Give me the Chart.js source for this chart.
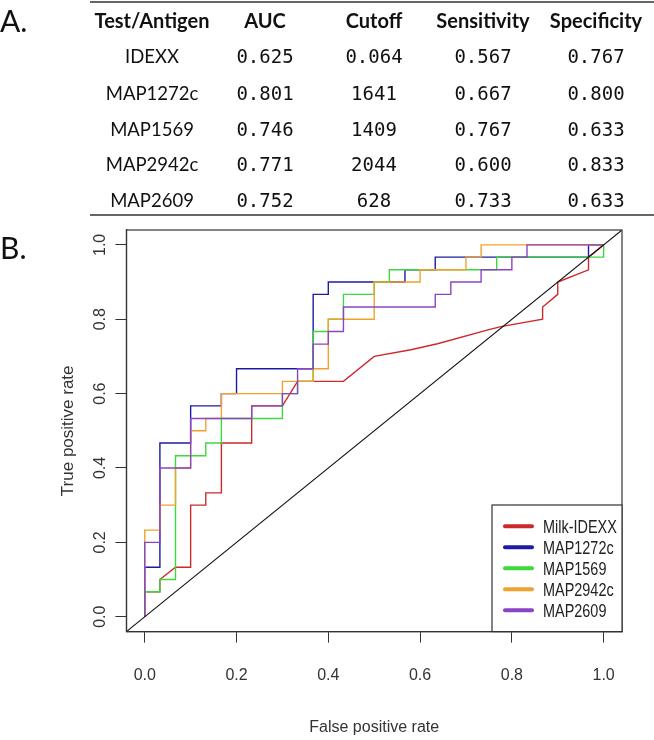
<!DOCTYPE html>
<html>
<head>
<meta charset="utf-8">
<title>ROC curves</title>
<script src="https://cdn.jsdelivr.net/npm/chart.js"></script>
<style>
  body { margin: 0; background: #fff; }
  #page { position: relative; width: 654px; height: 740px; overflow: hidden; }
  #roc { position: absolute; left: 0; top: 0; }
  .panel { position: absolute; left: 0; font: 30px Lato, sans-serif; color: #111; line-height: 1; }
  .rule { position: absolute; left: 90px; width: 564px; background: #666; }
  .cell { position: absolute; transform: translate(-50%, -50%); white-space: nowrap; color: #111; line-height: 1; }
  .hd { font: bold 20px Lato, sans-serif; }
  .nm { font: 18.5px Lato, sans-serif; }
  .num { font: 19px "DejaVu Sans Mono", monospace; }
</style>
</head>
<body>
<div id="page">
  <canvas id="roc" width="654" height="740"></canvas>
  <div class="panel" style="top:5px">A.</div>
  <div class="panel" style="top:232px">B.</div>
  <div class="rule" style="top:1px;height:2px"></div>
  <div class="rule" style="top:214px;height:2px"></div>
  <div id="table"></div>
</div>

<script>
// table A
const headers = ['Test/Antigen', 'AUC', 'Cutoff', 'Sensitivity', 'Specificity'];
const tests = ['IDEXX', 'MAP1272c', 'MAP1569', 'MAP2942c', 'MAP2609'];
const auc = ['0.625', '0.801', '0.746', '0.771', '0.752'];
const cutoff = ['0.064', '1641', '1409', '2044', '628'];
const sensitivity = ['0.567', '0.667', '0.767', '0.600', '0.733'];
const specificity = ['0.767', '0.800', '0.633', '0.833', '0.633'];

// panel B, ROC curves (false positive rate / true positive rate)
const seriesNames = ['Milk-IDEXX', 'MAP1272c', 'MAP1569', 'MAP2942c', 'MAP2609'];
const idexxFpr = [0, 0, .033, .033, .067, .1, .1, .133, .133, .167, .167, .233, .233, .3, .333, .433, .5, .58, .638, .75, .776, .867, .867, .9, .9, .967, .967, 1];
const idexxTpr = [0, .067, .067, .1, .133, .133, .3, .3, .333, .333, .467, .467, .567, .567, .633, .633, .7, .718, .734, .772, .78, .8, .833, .867, .9, .933, .967, 1];
const map1272Fpr = [0, 0, .033, .033, .1, .1, .167, .167, .2, .2, .367, .367, .4, .4, .567, .567, .633, .633, .967, .967, 1];
const map1272Tpr = [0, .133, .133, .467, .467, .567, .567, .6, .6, .667, .667, .867, .867, .9, .9, .933, .933, .967, .967, 1, 1];
const map1569Fpr = [0, 0, .033, .033, .067, .067, .133, .133, .167, .167, .3, .3, .333, .333, .367, .367, .4, .4, .433, .433, .5, .5, .533, .533, .767, .767, 1, 1];
const map1569Tpr = [0, .067, .067, .1, .1, .433, .433, .467, .467, .533, .533, .6, .6, .633, .633, .767, .767, .8, .8, .867, .867, .9, .9, .933, .933, .967, .967, 1];
const map2942Fpr = [0, 0, .033, .033, .067, .067, .1, .1, .133, .133, .167, .167, .3, .3, .367, .367, .4, .4, .5, .5, .6, .6, .7, .7, .733, .733, 1];
const map2942Tpr = [0, .233, .233, .3, .3, .4, .4, .5, .5, .533, .533, .6, .6, .633, .633, .667, .667, .8, .8, .9, .9, .933, .933, .967, .967, 1, 1];
const map2609Fpr = [0, 0, .033, .033, .1, .1, .233, .233, .3, .3, .333, .333, .367, .367, .4, .4, .433, .433, .633, .633, .667, .667, .733, .733, .8, .8, .833, .833, 1];
const map2609Tpr = [0, .2, .2, .4, .4, .533, .533, .567, .567, .6, .6, .667, .667, .733, .733, .767, .767, .833, .833, .867, .867, .9, .9, .933, .933, .967, .967, 1, 1];
const chanceLine = [-0.04, 1.04];
const axisTicks = [0, 0.2, 0.4, 0.6, 0.8, 1.0];

const seriesColors = ['#cc2a2a', '#1c1ca3', '#3cd83c', '#f0a22e', '#8a45c4'];

// build table
const colX = [152, 265, 374, 483, 596];
const rowY = [20, 56, 93, 129, 164, 200];
const tbl = document.getElementById('table');
function cell(text, cls, x, y) {
  const d = document.createElement('div');
  d.className = 'cell ' + cls;
  d.style.left = x + 'px';
  d.style.top = y + 'px';
  d.textContent = text;
  tbl.appendChild(d);
}
headers.forEach((h, i) => cell(h, 'hd', colX[i], rowY[0]));
tests.forEach((t, r) => {
  const y = rowY[r + 1];
  cell(t, 'nm', colX[0], y);
  cell(auc[r], 'num', colX[1], y);
  cell(cutoff[r], 'num', colX[2], y);
  cell(sensitivity[r], 'num', colX[3], y);
  cell(specificity[r], 'num', colX[4], y);
});

function pts(xs, ys) {
  return xs.map((x, i) => ({ x: x, y: ys[i] }));
}
const curves = [
  pts(idexxFpr, idexxTpr),
  pts(map1272Fpr, map1272Tpr),
  pts(map1569Fpr, map1569Tpr),
  pts(map2942Fpr, map2942Tpr),
  pts(map2609Fpr, map2609Tpr)
];

const datasets = curves.map((c, i) => ({
  label: seriesNames[i],
  data: c,
  borderColor: seriesColors[i],
  borderWidth: 1.4,
  showLine: true,
  pointRadius: 0,
  order: 5 - i
}));
datasets.push({
  label: 'chance',
  data: pts(chanceLine, chanceLine),
  borderColor: '#111',
  borderWidth: 1.1,
  showLine: true,
  pointRadius: 0,
  order: 0
});

const axisFont = { family: '"Liberation Sans", Arial, sans-serif', size: 16 };

// box, rotated y labels and legend, drawn like R's base graphics
const rocFrame = {
  id: 'rocFrame',
  afterDatasetsDraw(chart) {
    const { ctx, chartArea: a, scales: { y } } = chart;
    ctx.save();
    ctx.strokeStyle = '#333';
    ctx.lineWidth = 1.2;
    ctx.strokeRect(a.left, a.top, a.right - a.left, a.bottom - a.top);

    ctx.fillStyle = '#333';
    ctx.font = '16px "Liberation Sans", Arial, sans-serif';
    ctx.textAlign = 'center';
    ctx.textBaseline = 'middle';
    y.ticks.forEach(t => {
      ctx.save();
      ctx.translate(a.left - 26, y.getPixelForValue(t.value));
      ctx.rotate(-Math.PI / 2);
      ctx.fillText(t.value.toFixed(1), 0, 0);
      ctx.restore();
    });

    // legend
    const bw = 130, bh = 126.6;
    const bx = a.right - bw, by = a.bottom - bh;
    ctx.fillStyle = '#fff';
    ctx.fillRect(bx, by, bw, bh);
    ctx.strokeRect(bx, by, bw, bh);
    ctx.font = '19px "Liberation Sans", Arial, sans-serif';
    ctx.textAlign = 'left';
    seriesNames.forEach((name, i) => {
      const ly = by + 21.3 + i * 21;
      ctx.strokeStyle = seriesColors[i];
      ctx.lineWidth = 4;
      ctx.lineCap = 'round';
      ctx.beginPath();
      ctx.moveTo(bx + 13, ly);
      ctx.lineTo(bx + 40, ly);
      ctx.stroke();
      ctx.save();
      ctx.translate(bx + 51, ly + 1);
      ctx.scale(0.76, 1);
      ctx.fillStyle = '#222';
      ctx.fillText(name, 0, 0);
      ctx.restore();
    });
    ctx.restore();
  }
};

new Chart(document.getElementById('roc'), {
  type: 'scatter',
  data: { datasets: datasets },
  options: {
    responsive: false,
    animation: false,
    layout: { padding: { left: 58, top: 230, right: 32, bottom: 0 } },
    plugins: { legend: { display: false }, tooltip: { enabled: false } },
    scales: {
      x: {
        type: 'linear',
        min: -0.04,
        max: 1.04,
        afterBuildTicks: s => { s.ticks = axisTicks.map(v => ({ value: v })); },
        ticks: { color: '#333', font: axisFont, padding: 23, callback: v => v.toFixed(1), maxRotation: 0 },
        grid: { drawOnChartArea: false, drawTicks: true, tickLength: 11, color: '#333' },
        border: { display: true, color: '#333', width: 1.2 },
        title: { display: true, text: 'False positive rate', color: '#333', font: axisFont, padding: { top: 10, bottom: 3 } }
      },
      y: {
        type: 'linear',
        min: -0.04,
        max: 1.04,
        afterBuildTicks: s => { s.ticks = axisTicks.map(v => ({ value: v })); },
        ticks: { display: false },
        grid: { drawOnChartArea: false, drawTicks: true, tickLength: 11, color: '#333' },
        border: { display: true, color: '#333', width: 1.2 },
        title: { display: true, text: 'True positive rate', color: '#333', font: { family: '"Liberation Sans", Arial, sans-serif', size: 17 }, padding: { top: 0, bottom: 37 } }
      }
    }
  },
  plugins: [rocFrame]
});
</script>
</body>
</html>
